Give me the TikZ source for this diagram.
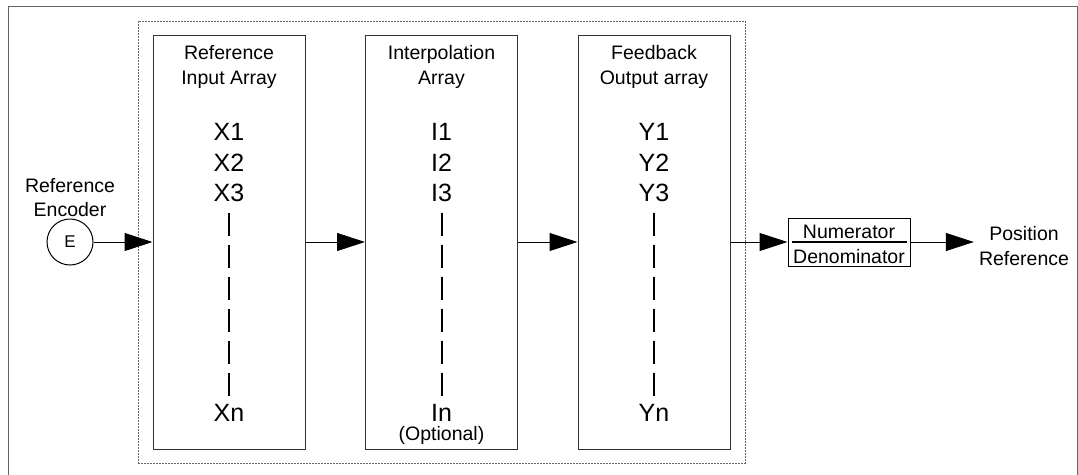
\documentclass[tikz,border=0pt]{standalone}
\usepackage{fontspec}
\setmainfont{Liberation Sans}
\usetikzlibrary{arrows.meta,positioning,calc}

\tikzset{
  arraybox/.style={draw=black!80, line width=1pt, minimum width=152, minimum height=414, inner sep=0},
  head/.style={anchor=base, inner sep=2pt, font=\fontsize{19.5}{23}\selectfont},
  item/.style={anchor=base, inner sep=2pt, font=\fontsize{25}{30}\selectfont},
  feed/.style={-{Triangle[length=28pt,width=18pt]}, line width=1pt},
}

\begin{document}
\begin{tikzpicture}[x=1pt,y=-1pt]
\useasboundingbox (0,0) rectangle (1078,474);
\node (outer) at (8,6) [anchor=north west, draw=black!60, line width=1pt, minimum width=1069, minimum height=478, inner sep=0] {};
\node (group) at (441.5,242) [draw=black!60, line width=1pt, dash pattern=on 2pt off 1pt, minimum width=607, minimum height=442, inner sep=0] {};

\foreach \nm/\cx/\lt/\ha/\hb in {ref/229/X/Reference/Input Array, int/441.5/I/Interpolation/Array, fb/654/Y/Feedback/Output array}{
  \node (\nm) at (\cx,242) [arraybox] {};
  \node (\nm-ha) at (\cx,59) [head] {\ha};
  \node (\nm-hb) at (\cx,84) [head] {\hb};
  \node (\nm-1) at (\cx,140) [item] {\lt1};
  \node (\nm-2) at (\cx,171) [item] {\lt2};
  \node (\nm-3) at (\cx,201) [item] {\lt3};
  \node (\nm-n) at (\cx,421) [item] {\lt n};
  \draw[line width=2pt, dash pattern=on 23pt off 9pt, shorten <=10pt, shorten >=6pt] (\nm-3) -- (\nm-n);
}
\node (int-opt) at (441.5,440) [head, inner sep=0pt] {(Optional)};

\node (enc) at (70,242) [circle, draw, line width=1pt, minimum size=46, inner sep=0, font=\fontsize{17}{20}\selectfont] {E};
\node (enc-a) at (70,192) [head] {Reference};
\node (enc-b) at (70,216) [head] {Encoder};

\node (ratio) at (849,242) [draw, line width=1pt, minimum width=122, minimum height=48, inner sep=0] {};
\node (num) at (849,238) [head] {Numerator};
\node (den) at (849,263) [head] {Denominator};
\draw[line width=2pt] ($(ratio.west)+(4,0)$) -- ($(ratio.east)+(-4,0)$);

\node (pos) at (1024,240) [head] {Position};
\node (posref) at (1024,265) [head] {Reference};

\draw[feed] (enc) -- (ref);
\draw[feed] (ref) -- (int);
\draw[feed] (int) -- (fb);
\draw[feed] (fb) -- (ratio);
\draw[feed, shorten >=3pt] (ratio.east) -- (ratio.east -| posref.west);
\end{tikzpicture}
\end{document}
